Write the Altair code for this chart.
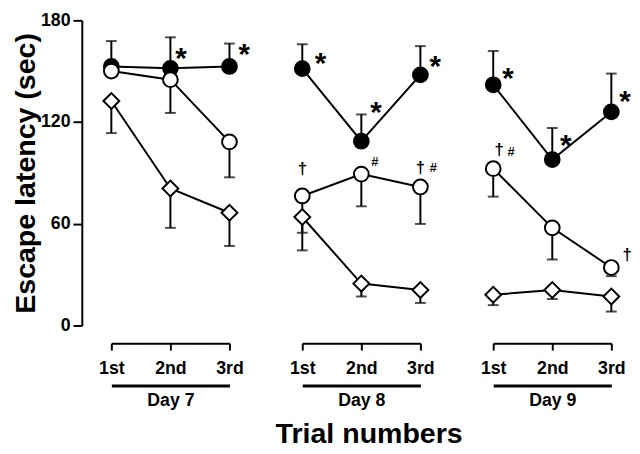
import altair as alt
import pandas as pd

days = ["Day 7", "Day 8", "Day 9"]
trials = ["1st", "2nd", "3rd"]
series = ["filled circle", "open circle", "open diamond"]

# 9 values per series: Day 7 (1st, 2nd, 3rd), Day 8 (...), Day 9 (...)
filled_mean = [152.8, 151.7, 152.8, 151.5, 108.7, 147.8, 142.0, 97.9, 126.0]
filled_err = [15.0, 18.3, 13.5, 14.4, 15.8, 17.0, 19.9, 18.6, 22.6]
open_mean = [150.1, 145.0, 108.3, 76.4, 89.3, 81.7, 92.5, 57.6, 34.2]
open_err = [0.0, 19.6, 20.9, 21.7, 19.0, 21.8, 16.5, 18.7, 5.1]
diamond_mean = [132.4, 80.8, 66.5, 64.0, 24.7, 20.9, 18.1, 20.9, 17.1]
diamond_err = [18.9, 23.2, 19.6, 19.7, 7.6, 7.6, 6.1, 5.3, 8.9]
err_side = [1, -1, -1]  # error bar drawn upward / downward

# significance marks: day, position in trial units, value, symbol
ann_day = ["Day 7", "Day 7",
           "Day 8", "Day 8", "Day 8", "Day 8", "Day 8", "Day 8", "Day 8",
           "Day 9", "Day 9", "Day 9", "Day 9", "Day 9", "Day 9"]
ann_pos = [2.18, 3.25,
           1.31, 2.25, 3.25, 1.0, 2.23, 3.0, 3.22,
           1.25, 2.23, 3.23, 1.1, 1.3, 3.27]
ann_value = [161.5, 164.0,
             158.7, 130.2, 156.8, 92.2, 96.0, 92.8, 92.2,
             150.1, 110.2, 136.3, 103.6, 102.0, 41.4]
ann_text = ["*", "*",
            "*", "*", "*", "†", "#", "†", "#",
            "*", "*", "*", "†", "#", "†"]

y_ticks = [0, 60, 120, 180]

rows = []
for name, means, errs, side in zip(series,
                                   [filled_mean, open_mean, diamond_mean],
                                   [filled_err, open_err, diamond_err],
                                   err_side):
    for i, (m, e) in enumerate(zip(means, errs)):
        rows.append({"series": name, "day": days[i // 3], "trial": i % 3 + 1,
                     "mean": m, "end": m + side * e, "err": e})
df = pd.DataFrame(rows)
ann = pd.DataFrame({"day": ann_day, "pos": ann_pos, "value": ann_value, "text": ann_text})

FONT = "Liberation Sans"
label_expr = " : ".join(f"datum.value == {i + 1} ? '{t}'" for i, t in enumerate(trials[:-1])) + f" : '{trials[-1]}'"

xs = alt.Scale(domain=[1, 3], nice=False, zero=False)
ys = alt.Scale(domain=[0, 180], nice=False, zero=True)


def panel(day, first):
    d = df[df.day == day]
    a = ann[ann.day == day]
    if first:
        yax = alt.Axis(values=y_ticks, title="Escape latency (sec)", titleFont=FONT,
                       titleFontSize=29, titleFontWeight="bold", titleColor="black",
                       titlePadding=0, labelFont=FONT, labelFontSize=18,
                       labelFontWeight="bold", labelColor="black", labelPadding=3,
                       tickSize=9, tickWidth=2, tickColor="black", domainWidth=2,
                       domainColor="black", grid=False, offset=30, labelFlush=False)
    else:
        yax = None
    bracket_axis = alt.Axis(values=[1, 2, 3], labelExpr=label_expr, orient="bottom",
                            labelFont=FONT, labelFontSize=18, labelFontWeight="bold",
                            labelColor="black", labelPadding=10, labelFlush=False,
                            labelOverlap=False, tickSize=7, tickWidth=2,
                            tickColor="black", domainWidth=2, domainColor="black",
                            grid=False, offset=18, title=None)
    under_axis = alt.Axis(orient="bottom", labels=False, ticks=False, grid=False,
                          domainWidth=3, domainColor="black", offset=61, title=day,
                          titleFont=FONT, titleFontSize=18, titleFontWeight="bold",
                          titleColor="black", titlePadding=6)
    base = alt.Chart(d)
    rules = base.transform_filter("datum.err > 0").mark_rule(
        color="black", strokeWidth=2).encode(
        x=alt.X("trial:Q", scale=xs, axis=under_axis),
        y=alt.Y("mean:Q", scale=ys, axis=yax),
        y2="end:Q")
    caps = base.transform_filter("datum.err > 0").mark_tick(
        color="black", orient="horizontal", size=11, thickness=2).encode(
        x=alt.X("trial:Q", scale=xs, axis=None),
        y=alt.Y("end:Q", scale=ys, axis=yax))
    lines = base.mark_line(color="black", strokeWidth=2).encode(
        x=alt.X("trial:Q", scale=xs, axis=bracket_axis),
        y=alt.Y("mean:Q", scale=ys, axis=yax),
        detail="series:N")
    layers = [rules, caps, lines]
    styles = {"filled circle": ("circle", "black", 225),
              "open circle": ("circle", "white", 225),
              "open diamond": ("diamond", "white", 260)}
    for s in series:
        shape, fill, size = styles[s]
        layers.append(base.transform_filter(alt.datum.series == s).mark_point(
            shape=shape, filled=True, fill=fill, stroke="black", strokeWidth=2,
            size=size, opacity=1).encode(
            x=alt.X("trial:Q", scale=xs, axis=None),
            y=alt.Y("mean:Q", scale=ys, axis=yax)))
    glyphs = {"*": (30, 8), "†": (17, 0), "#": (13, -1)}
    tb = alt.Chart(a)
    for g, (fs, dy) in glyphs.items():
        layers.append(tb.transform_filter(alt.datum.text == g).mark_text(
            font=FONT, fontSize=fs, fontWeight="bold", color="black",
            align="center", baseline="middle", dy=dy).encode(
            x=alt.X("pos:Q", scale=xs, axis=None),
            y=alt.Y("value:Q", scale=ys, axis=yax),
            text="text:N"))
    return alt.layer(*layers).resolve_axis(x="independent").properties(
        width=120, height=310)


panels = [panel(dname, i == 0) for i, dname in enumerate(days)]

chart = alt.hconcat(*panels, spacing=74, bounds="flush").properties(
    title=alt.TitleParams("Trial numbers", orient="bottom", anchor="middle",
                          font=FONT, fontSize=29, fontWeight="bold", color="black",
                          offset=11, dx=48)
).configure(
    background="white", padding={"left": 3, "top": 0, "right": 0, "bottom": 0}
).configure_view(stroke="transparent", strokeWidth=0)

chart.save("out.html", embed_options={"renderer": "svg", "actions": False})
